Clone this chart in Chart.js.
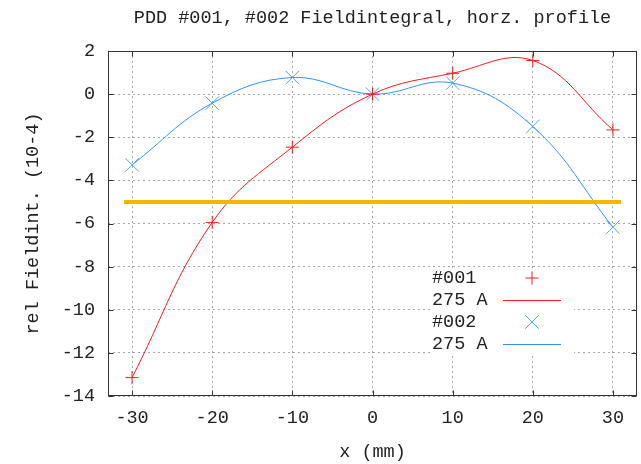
<!DOCTYPE html>
<html>
<head>
<meta charset="utf-8">
<script src="https://cdn.jsdelivr.net/npm/chart.js@4.4.1/dist/chart.umd.min.js"></script>
<style>
  html, body { margin: 0; padding: 0; background: #fff; }
</style>
</head>
<body>
<canvas id="myChart" width="641" height="464"></canvas>
<script>
// measured points, x in mm
var xValues = [-30, -20, -10, 0, 10, 20, 30];
var pdd001 = [-13.15, -5.95, -2.46, 0, 0.97, 1.56, -1.66];
var pdd002 = [-3.28, -0.42, 0.77, 0, 0.51, -1.5, -6.17];
// reference level
var refX = [-31, 31];
var refY = -5;
var xTicks = [-30, -20, -10, 0, 10, 20, 30];
var yTicks = [-14, -12, -10, -8, -6, -4, -2, 0, 2];
var keyLabels = ["#001", "275 A", "#002", "275 A"];

var red = "#ff1a1a";
var blue = "#2b93ff";
var blueMark = "#4aa5ff";
var gold = "#f7b500";
var FONT = "Liberation Mono";
var FS = 18.5;

function pts(ys) {
  return xValues.map(function (x, i) { return { x: x, y: ys[i] }; });
}

var gnuFrame = {
  id: "gnuFrame",
  afterDatasetsDraw: function (chart) {
    var ctx = chart.ctx, a = chart.chartArea;
    var sx = chart.scales.x, sy = chart.scales.y;
    ctx.save();
    // key box
    var kx = a.right - 205, ky = a.top + 215;
    ctx.fillStyle = "#fff";
    ctx.fillRect(kx - 2, ky + 2, 144, 88);
    ctx.font = FS + "px '" + FONT + "'";
    ctx.textAlign = "left";
    ctx.textBaseline = "middle";
    var colors = [red, red, blueMark, blue];
    keyLabels.forEach(function (t, i) {
      var y = ky + 12 + i * 22;
      ctx.fillStyle = "#222";
      ctx.fillText(t, kx, y);
      ctx.strokeStyle = colors[i];
      ctx.lineWidth = 1;
      if (i % 2 === 0) {
        Chart.helpers.drawPoint(ctx, {
          pointStyle: i === 0 ? "cross" : "crossRot",
          radius: i === 0 ? 6.5 : 9.5, rotation: 0, borderWidth: 1
        }, kx + 100, y);
      } else {
        ctx.beginPath();
        ctx.moveTo(kx + 71, Math.round(y) + 0.5);
        ctx.lineTo(kx + 129, Math.round(y) + 0.5);
        ctx.stroke();
      }
    });
    // border + inward tics on all sides
    ctx.strokeStyle = "#333";
    ctx.lineWidth = 1;
    var L = Math.round(a.left) + 0.5, R = Math.round(a.right) - 0.5;
    var T = Math.round(a.top) + 0.5, B = Math.round(a.bottom) - 0.5;
    ctx.beginPath();
    xTicks.forEach(function (v) {
      var px = Math.round(sx.getPixelForValue(v)) + 0.5;
      ctx.moveTo(px, B); ctx.lineTo(px, B - 5);
      ctx.moveTo(px, T); ctx.lineTo(px, T + 5);
    });
    yTicks.forEach(function (v) {
      var py = Math.round(sy.getPixelForValue(v)) + 0.5;
      ctx.moveTo(L, py); ctx.lineTo(L + 5, py);
      ctx.moveTo(R, py); ctx.lineTo(R - 5, py);
    });
    ctx.stroke();
    ctx.strokeRect(L, T, R - L, B - T);
    ctx.restore();
  },
  afterDraw: function (chart) {
    var ctx = chart.ctx, a = chart.chartArea;
    ctx.save();
    ctx.font = FS + "px '" + FONT + "'";
    ctx.fillStyle = "#222";
    ctx.textAlign = "center";
    ctx.textBaseline = "middle";
    ctx.fillText("PDD #001, #002 Fieldintegral, horz. profile", (a.left + a.right) / 2, 18);
    ctx.restore();
  }
};

new Chart("myChart", {
  type: "line",
  data: {
    datasets: [
      {
        data: refX.map(function (x) { return { x: x, y: refY }; }),
        borderColor: gold, borderWidth: 4, pointRadius: 0, tension: 0
      },
      {
        data: pts(pdd001), showLine: false,
        pointStyle: "cross", pointRadius: 6.5, pointBorderWidth: 1,
        borderColor: red, pointBorderColor: red, backgroundColor: red
      },
      {
        data: pts(pdd001), borderColor: red, borderWidth: 1,
        pointRadius: 0, tension: 0.4
      },
      {
        data: pts(pdd002), showLine: false,
        pointStyle: "crossRot", pointRadius: 9.5, pointBorderWidth: 1,
        borderColor: blueMark, pointBorderColor: blueMark, backgroundColor: blueMark
      },
      {
        data: pts(pdd002), borderColor: blue, borderWidth: 1,
        pointRadius: 0, tension: 0.4
      }
    ]
  },
  options: {
    responsive: false,
    animation: false,
    events: [],
    layout: { autoPadding: false, padding: { top: 51, right: 4, left: 0, bottom: 0 } },
    plugins: {
      legend: { display: false },
      title: { display: false },
      tooltip: { enabled: false }
    },
    scales: {
      x: {
        type: "linear", min: -33, max: 33,
        afterBuildTicks: function (s) { s.ticks = xTicks.map(function (v) { return { value: v }; }); },
        afterFit: function (s) { s.height = 68; s.paddingLeft = 0; s.paddingRight = 0; },
        grid: { color: "#a8a8a8", lineWidth: 1, drawTicks: false },
        border: { display: false, dash: [2, 3] },
        ticks: { color: "#222", padding: 11, maxRotation: 0, font: { family: FONT, size: FS } },
        title: { display: true, text: "x (mm)", color: "#222", padding: { top: 0, bottom: 1 }, font: { family: FONT, size: FS } }
      },
      y: {
        min: -14, max: 2,
        afterBuildTicks: function (s) { s.ticks = yTicks.map(function (v) { return { value: v }; }); },
        afterFit: function (s) { s.width = 108; s.paddingTop = 0; s.paddingBottom = 0; },
        grid: { color: "#a8a8a8", lineWidth: 1, drawTicks: false },
        border: { display: false, dash: [2, 3] },
        ticks: { color: "#222", padding: 13, font: { family: FONT, size: FS } },
        title: { display: true, text: "rel Fieldint. (10-4)", color: "#222", padding: { top: 22, bottom: 0 }, font: { family: FONT, size: FS } }
      }
    }
  },
  plugins: [gnuFrame]
});
</script>
</body>
</html>
